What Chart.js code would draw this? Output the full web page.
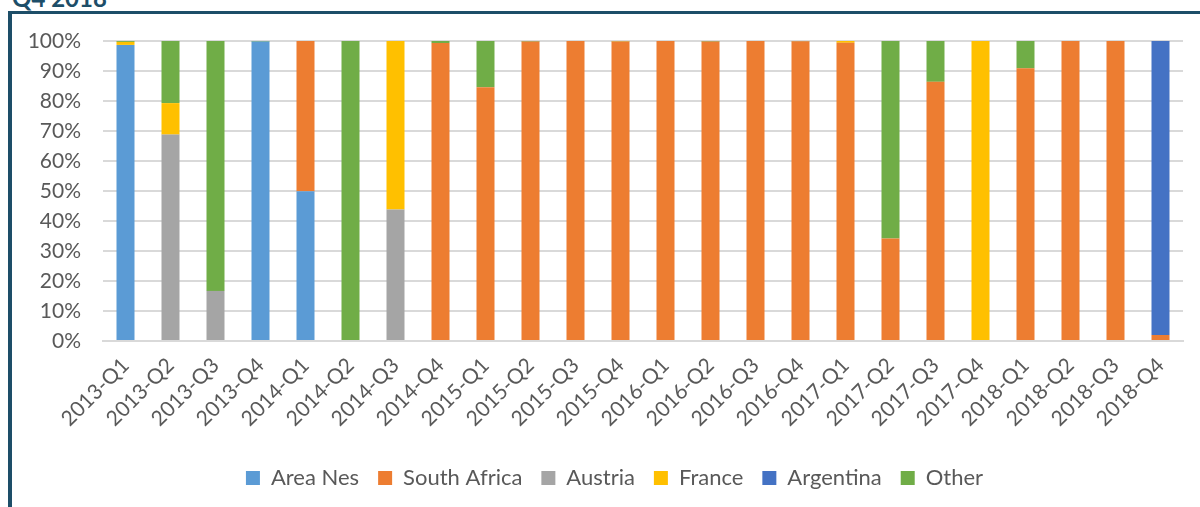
<!DOCTYPE html>
<html>
<head>
<meta charset="utf-8">
<script src="https://cdn.jsdelivr.net/npm/chart.js@4"></script>
<style>
  body { margin: 0; background: #fff; }
  #wrap { position: relative; width: 1200px; height: 507px; overflow: hidden; }
  #frame { position: absolute; left: 8px; top: 11px; right: -10px; bottom: -10px;
           border-top: 3px solid #1d4e68; border-left: 4px solid #1d4e68; }
  #title { position: absolute; left: 12px; top: -17px; font: bold 24px Lato, sans-serif; color: #1d4e68; }
  #box { position: absolute; left: 0; top: 0; width: 1200px; height: 507px; }
</style>
</head>
<body>
<div id="wrap">
  <div id="title">Q4 2018</div>
  <div id="frame"></div>
  <div id="box"><canvas id="shareChart"></canvas></div>
</div>
<script>
// quarters
const quarters = ['2013-Q1', '2013-Q2', '2013-Q3', '2013-Q4', '2014-Q1', '2014-Q2', '2014-Q3', '2014-Q4',
                  '2015-Q1', '2015-Q2', '2015-Q3', '2015-Q4', '2016-Q1', '2016-Q2', '2016-Q3', '2016-Q4',
                  '2017-Q1', '2017-Q2', '2017-Q3', '2017-Q4', '2018-Q1', '2018-Q2', '2018-Q3', '2018-Q4'];

// share in % per partner
const areaNes     = [98.7, 0, 0, 99.8, 49.9, 0, 0, 0, 0, 0, 0, 0, 0, 0, 0, 0, 0, 0, 0, 0, 0, 0, 0, 0];
const southAfrica = [0, 0, 0, 0, 50.1, 0, 0, 99.3, 84.6, 99.8, 100, 99.8, 100, 99.8, 100, 99.9, 99.4, 34.2, 86.4, 0, 90.9, 100, 100, 2.0];
const austria     = [0, 68.8, 16.7, 0, 0, 0, 43.8, 0, 0, 0, 0, 0, 0, 0, 0, 0, 0, 0, 0, 0, 0, 0, 0, 0];
const france      = [1.0, 10.5, 0, 0, 0, 0, 56.2, 0, 0, 0, 0, 0.1, 0, 0, 0, 0, 0.6, 0, 0, 100, 0, 0, 0, 0];
const argentina   = [0, 0, 0, 0, 0, 0, 0, 0, 0, 0, 0, 0, 0, 0, 0, 0, 0, 0, 0, 0, 0, 0, 0, 98.0];
const other       = [0.3, 20.7, 83.3, 0.2, 0, 100, 0, 0.7, 15.4, 0.2, 0, 0.1, 0, 0.2, 0, 0.1, 0, 65.8, 13.6, 0, 9.1, 0, 0, 0];

const yTicks = [0, 10, 20, 30, 40, 50, 60, 70, 80, 90, 100];

const FONT = 'Lato';
const TXT = '#595959';

// nudge the legend a bit right, like the original (centred under the plot)
const legendShift = {
    id: 'legendShift',
    afterLayout(chart) {
        if (chart.legend) { chart.legend.left += 13; chart.legend.right += 13; }
    }
};

const ctx = document.getElementById('shareChart').getContext('2d');
const shareChart = new Chart(ctx, {
    type: 'bar',
    data: {
        labels: quarters,
        datasets: [
            { label: 'Area Nes', data: areaNes, backgroundColor: '#5b9bd5' },
            { label: 'South Africa', data: southAfrica, backgroundColor: '#ed7d31' },
            { label: 'Austria', data: austria, backgroundColor: '#a5a5a5' },
            { label: 'France', data: france, backgroundColor: '#ffc000' },
            { label: 'Argentina', data: argentina, backgroundColor: '#4472c4' },
            { label: 'Other', data: other, backgroundColor: '#70ad47' }
        ]
    },
    options: {
        responsive: true,
        maintainAspectRatio: false,
        animation: false,
        categoryPercentage: 1,
        barPercentage: 0.4,
        layout: { padding: { top: 41, left: 20, right: 17, bottom: 8 } },
        scales: {
            x: {
                stacked: true,
                grid: { display: false, drawTicks: false },
                border: { color: '#d9d9d9', width: 2 },
                ticks: {
                    color: TXT, font: { family: FONT, size: 21 },
                    minRotation: 45, maxRotation: 45, autoSkip: false, padding: 12
                },
                afterFit: (s) => { s.height = 107; }
            },
            y: {
                stacked: true,
                min: 0,
                max: 100,
                afterBuildTicks: (s) => { s.ticks = yTicks.map(v => ({ value: v })); },
                grid: { color: '#d9d9d9', lineWidth: 2, drawTicks: false },
                border: { display: false },
                ticks: {
                    color: TXT, font: { family: FONT, size: 21 }, padding: 22,
                    callback: (v) => v + '%'
                },
                afterFit: (s) => { s.width = 83; }
            }
        },
        plugins: {
            legend: {
                position: 'bottom',
                labels: {
                    color: TXT, font: { family: FONT, size: 22 },
                    boxWidth: 14, boxHeight: 14, padding: 19
                }
            },
            tooltip: { enabled: false }
        }
    },
    plugins: [legendShift]
});
</script>
</body>
</html>
